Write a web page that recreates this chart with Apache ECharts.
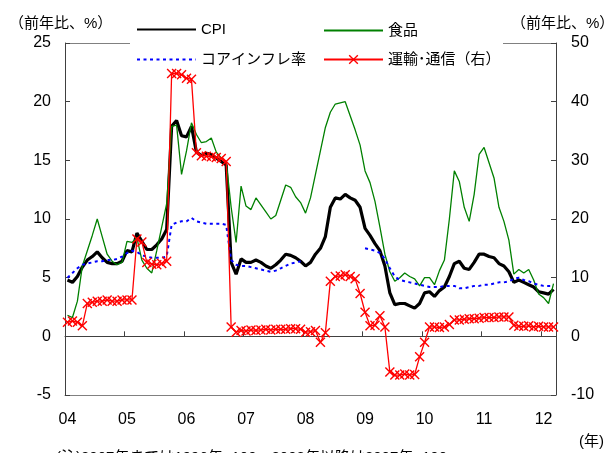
<!DOCTYPE html>
<html>
<head>
<meta charset="utf-8">
<script src="https://cdn.jsdelivr.net/npm/echarts@6/dist/echarts.min.js"></script>
<style>
  html, body { margin: 0; padding: 0; background: #fff; }
  #chart { width: 608px; height: 453px; }
</style>
</head>
<body>
<div id="chart"></div>
<script>
// 年ラベル（04年1月〜12年3月の月次）
const yearLabels = ['04', '05', '06', '07', '08', '09', '10', '11', '12'];
const lastYearMonths = 3;

// CPI（前年比、%）
const cpi = [
  4.8, 4.6, 5.1, 5.9, 6.5, 6.8, 7.2, 6.7, 6.3, 6.2, 6.2, 6.4,
  7.3, 7.2, 8.8, 8.1, 7.4, 7.4, 7.8, 8.3, 9.1, 17.9, 18.4, 17.1,
  17.0, 17.9, 15.7, 15.4, 15.6, 15.5, 15.2, 14.9, 14.6, 6.3, 5.3, 6.6,
  6.3, 6.3, 6.5, 6.3, 6.0, 5.8, 6.1, 6.5, 7.0, 6.9, 6.7, 6.4,
  6.0, 6.3, 7.0, 7.5, 8.5, 11.0, 11.8, 11.7, 12.1, 11.8, 11.6, 11.0,
  9.2, 8.6, 7.9, 7.3, 6.0, 3.7, 2.7, 2.8, 2.8, 2.6, 2.4, 2.8,
  3.7, 3.8, 3.4, 3.9, 4.2, 5.1, 6.2, 6.4, 5.8, 5.7, 6.3, 7.0,
  7.0, 6.8, 6.7, 6.2, 6.0, 5.5, 4.6, 4.8, 4.6, 4.4, 4.2, 3.8,
  3.7, 3.6, 4.0
];

// 食品
const food = [
  1.8, 1.6, 3.0, 6.0, 7.3, 8.6, 10.0, 8.5, 7.0, 6.4, 6.1, 6.3,
  8.1, 8.0, 8.4, 6.5, 5.8, 5.4, 7.3, 9.3, 11.3, 17.9, 18.0, 13.8,
  15.8, 18.2, 17.2, 16.5, 16.6, 16.9, 15.7, 15.2, 14.9, 11.0, 8.0, 12.8,
  11.1, 10.8, 11.8, 11.2, 10.6, 10.0, 10.3, 11.6, 12.9, 12.7, 11.9, 11.4,
  10.5, 11.8, 13.8, 15.8, 17.8, 19.1, 19.8, 19.9, 20.0, 18.8, 17.6, 16.3,
  14.1, 13.1, 11.5, 9.3, 7.0, 5.5, 4.7, 5.0, 5.4, 5.1, 4.9, 4.3,
  5.0, 5.0, 4.4, 5.6, 6.5, 10.0, 14.1, 13.2, 11.0, 9.8, 12.1, 15.5,
  16.1, 14.8, 13.5, 11.0, 9.8, 8.2, 5.3, 5.7, 5.4, 5.7, 4.8, 3.6,
  3.3, 2.8, 4.5
];

// コアインフレ率（08年は欠損）
const core = [
  5.0, 5.4, 5.8, 6.1, 6.2, 6.3, 6.4, 6.4, 6.5, 6.5, 6.6, 6.8,
  7.1, 7.3, 7.2, 6.9, 6.8, 6.7, 6.7, 6.7, 6.8, 9.5, 9.7, 9.8,
  9.8, 10.1, 9.8, 9.7, 9.6, 9.6, 9.6, 9.6, 9.5, 6.5, 6.1, 6.0,
  6.0, 5.9, 5.8, 5.7, 5.6, 5.5, 5.6, 5.8, 6.0, 6.2, 6.3, 6.4,
  null, null, null, null, null, null, null, null, null, null, null, null,
  7.5, 7.4, 7.3, 7.1, 6.6, 5.8, 5.1, 4.8, 4.7, 4.6, 4.5, 4.4,
  4.3, 4.2, 4.2, 4.2, 4.3, 4.3, 4.3, 4.1, 4.1, 4.2, 4.3, 4.3,
  4.4, 4.4, 4.5, 4.6, 4.6, 4.7, 4.9, 5.0, 4.8, 4.7, 4.5, 4.4,
  4.3, 4.3, 4.3
];

// 運輸・通信（右軸）
const transport = [
  2.4, 2.6, 2.4, 1.8, 5.6, 5.8, 6.0, 6.0, 6.2, 6.0, 6.0, 6.2,
  6.2, 6.2, 16.6, 16.1, 12.6, 12.3, 12.2, 12.4, 12.8, 44.8, 44.8, 44.6,
  44.0, 43.8, 31.3, 30.8, 30.7, 30.6, 30.5, 30.3, 29.8, 1.6, 0.7, 1.0,
  0.9, 1.1, 1.0, 1.1, 1.2, 1.1, 1.2, 1.2, 1.2, 1.3, 1.3, 1.2,
  0.7, 0.8, 1.0, -1.0, 0.6, 9.4, 10.2, 10.3, 10.5, 10.2, 9.8, 7.3,
  4.1, 1.8, 1.9, 3.5, 1.6, -6.1, -6.6, -6.6, -6.4, -6.6, -6.5, -3.5,
  -1.0, 1.6, 1.6, 1.5, 1.6, 2.0, 2.8, 2.8, 2.9, 3.0, 3.0, 3.1,
  3.2, 3.2, 3.2, 3.3, 3.3, 3.3, 1.9, 1.7, 1.7, 1.8, 1.6, 1.7,
  1.6, 1.6, 1.6
];

// 月次カテゴリ 'YY/MM'
const categories = [];
yearLabels.forEach((y, k) => {
  const n = k === yearLabels.length - 1 ? lastYearMonths : 12;
  for (let m = 1; m <= n; m++) categories.push(y + '/' + (m < 10 ? '0' + m : m));
});

const FONT = "'Liberation Sans', 'Noto Sans CJK JP', sans-serif";
const AXIS_COLOR = '#404040';
const crossMark = 'path://M0,1L1,0L5,4L9,0L10,1L6,5L10,9L9,10L5,6L1,10L0,9L4,5Z';

const legendBase = {
  orient: 'horizontal',
  padding: 0,
  itemWidth: 59,
  itemHeight: 12,
  textStyle: { fontSize: 15, color: '#000', fontFamily: FONT }
};
// 線だけの凡例（記号なし）
const lineOnly = { itemStyle: { opacity: 0 } };

const chart = echarts.init(document.getElementById('chart'));
chart.setOption({
  animation: false,
  textStyle: { fontFamily: FONT },
  grid: { left: 65, right: 52, top: 43, bottom: 58, show: false },
  legend: [
    Object.assign({ data: ['CPI'], left: 136, top: 22 }, legendBase, lineOnly),
    Object.assign({ data: ['食品'], left: 323, top: 23 }, legendBase, lineOnly),
    Object.assign({ data: ['コアインフレ率'], left: 136, top: 52 }, legendBase, lineOnly),
    Object.assign({ data: ['運輸･通信（右）'], left: 323, top: 52 }, legendBase)
  ],
  xAxis: [
    {
      type: 'category',
      data: categories,
      boundaryGap: true,
      position: 'bottom',
      axisLine: { onZero: false, lineStyle: { color: '#808080', width: 1 } },
      axisTick: { show: false },
      axisLabel: {
        interval: (i) => i % 12 === 0,
        formatter: (v) => v.split('/')[0],
        fontSize: 16,
        color: '#000',
        margin: 17
      },
      splitLine: { show: false }
    },
    {
      // 0%ライン（年の区切りに目盛）
      type: 'category',
      data: categories,
      boundaryGap: true,
      position: 'top',
      axisLine: { onZero: true, onZeroAxisIndex: 0, lineStyle: { color: AXIS_COLOR, width: 1 } },
      axisTick: { show: true, inside: false, length: 5, interval: (i) => i % 12 === 0, lineStyle: { color: AXIS_COLOR } },
      axisLabel: { show: false },
      splitLine: { show: false }
    }
  ],
  yAxis: [
    {
      type: 'value',
      min: -5, max: 25, interval: 5,
      position: 'left',
      axisLine: { show: true, onZero: false, lineStyle: { color: AXIS_COLOR } },
      axisTick: { show: true, inside: true, length: 5, lineStyle: { color: AXIS_COLOR } },
      axisLabel: { fontSize: 16, color: '#000', margin: 14 },
      splitLine: { show: false }
    },
    {
      type: 'value',
      min: -10, max: 50, interval: 10,
      position: 'right',
      axisLine: { show: true, onZero: false, lineStyle: { color: AXIS_COLOR } },
      axisTick: { show: true, inside: true, length: 5, lineStyle: { color: AXIS_COLOR } },
      axisLabel: { fontSize: 16, color: '#000', margin: 15 },
      splitLine: { show: false }
    }
  ],
  series: [
    {
      name: 'CPI', type: 'line', data: cpi,
      symbol: 'none',
      lineStyle: { color: '#000', width: 3.2 },
      itemStyle: { color: '#000' }
    },
    {
      name: '食品', type: 'line', data: food,
      symbol: 'none',
      lineStyle: { color: '#008000', width: 1.3 },
      itemStyle: { color: '#008000' }
    },
    {
      name: 'コアインフレ率', type: 'line', data: core,
      symbol: 'none',
      connectNulls: false,
      lineStyle: { color: '#0000FF', width: 2, type: [3, 3.5] },
      itemStyle: { color: '#0000FF' }
    },
    {
      name: '運輸･通信（右）', type: 'line', data: transport,
      yAxisIndex: 1,
      symbol: crossMark,
      symbolSize: 10,
      showAllSymbol: true,
      lineStyle: { color: '#FF0000', width: 1.3 },
      itemStyle: { color: '#FF0000' }
    }
  ],
  graphic: [
    // 上枠（凡例部分は空ける）
    { type: 'line', silent: true, shape: { x1: 65, y1: 43.5, x2: 130, y2: 43.5 }, style: { stroke: '#808080', lineWidth: 1 } },
    { type: 'line', silent: true, shape: { x1: 503, y1: 43.5, x2: 556, y2: 43.5 }, style: { stroke: '#808080', lineWidth: 1 } },
    { type: 'text', left: 9, top: 16, style: { text: '（前年比、%）', font: '15px ' + FONT, fill: '#000' } },
    { type: 'text', left: 511, top: 16, style: { text: '（前年比、%）', font: '15px ' + FONT, fill: '#000' } },
    { type: 'text', left: 579, top: 434, style: { text: '(年)', font: '15px ' + FONT, fill: '#000' } },
    { type: 'text', left: 56, top: 450, style: { text: '(注)2007年までは1996年=100、2008年以降は2007年=100', font: '15px ' + FONT, fill: '#000' } }
  ]
});
</script>
</body>
</html>
